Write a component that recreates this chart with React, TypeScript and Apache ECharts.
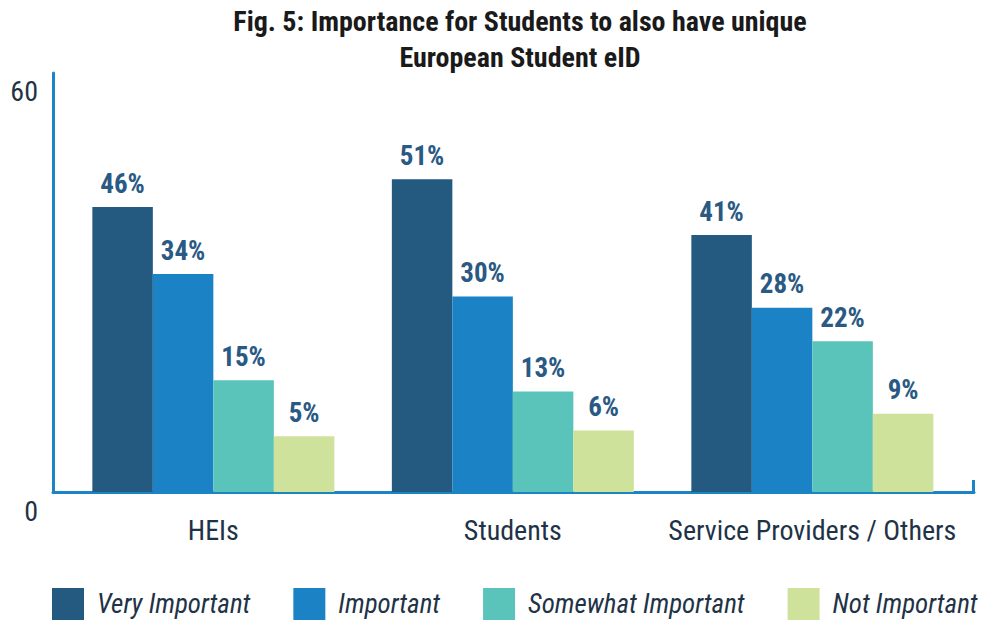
import React, { useEffect, useRef } from "react";
import * as echarts from "echarts";

const titleText = "Fig. 5: Importance for Students to also have unique\nEuropean Student eID";
const categories = ["HEIs", "Students", "Service Providers / Others"];
const seriesNames = ["Very Important", "Important", "Somewhat Important", "Not Important"];
const veryImportant = [46, 51, 41];
const important = [34, 30, 28];
const somewhatImportant = [15, 13, 22];
const notImportant = [5, 6, 9];
const yTickLabels = ["60", "0"];
const colors = ["#245a80", "#1b82c5", "#5ac4bb", "#cfe29b"];

const FONT = "'Roboto Condensed', 'Roboto', sans-serif";
const AXIS_COLOR = "#1b83c6";

export default function App() {
  const ref = useRef<HTMLDivElement>(null);
  useEffect(() => {
    if (!ref.current) return;
    const chart = echarts.init(ref.current, undefined, { renderer: "svg" });
    const values = [veryImportant, important, somewhatImportant, notImportant];
    const option: any = {
      animation: false,
      backgroundColor: "#ffffff",
      textStyle: { fontFamily: FONT },
      title: {
        text: titleText,
        left: 515,
        top: -2,
        textAlign: "center",
        textStyle: {
          fontFamily: FONT,
          fontWeight: "bold",
          fontSize: 28,
          lineHeight: 36,
          color: "#1a1a1a",
        },
      },
      legend: {
        data: seriesNames,
        left: 52,
        top: 588,
        padding: 0,
        icon: "rect",
        itemWidth: 32,
        itemHeight: 32,
        itemGap: 43,
        textStyle: {
          fontFamily: FONT,
          fontStyle: "italic",
          fontSize: 27,
          color: "#1f3347",
          padding: [0, 0, 0, 8],
        },
      },
      grid: [
        // frame grid: carries the axis lines
        { left: 53, right: 7, top: 73, bottom: 131, containLabel: false },
        // data grid: carries the bars and category labels
        { left: 63.6, right: 18.9, top: 73, bottom: 131, containLabel: false },
      ],
      xAxis: [
        {
          gridIndex: 0,
          type: "value",
          min: 0,
          max: 1,
          axisLine: { show: true, onZero: false, lineStyle: { color: AXIS_COLOR, width: 3 } },
          axisTick: { show: false },
          axisLabel: { show: false },
          splitLine: { show: false },
        },
        {
          gridIndex: 1,
          type: "category",
          data: categories,
          axisLine: { show: false },
          axisTick: { show: false },
          axisLabel: {
            interval: 0,
            margin: 24,
            fontFamily: FONT,
            fontSize: 28,
            color: "#1f3347",
          },
        },
      ],
      yAxis: [
        {
          gridIndex: 0,
          type: "value",
          min: -5,
          max: 70,
          axisLine: { show: true, onZero: false, lineStyle: { color: AXIS_COLOR, width: 3 } },
          axisTick: { show: false },
          axisLabel: { show: false },
          splitLine: { show: false },
        },
        {
          gridIndex: 1,
          type: "value",
          min: -5,
          max: 70,
          startValue: -5,
          axisLine: { show: false },
          axisTick: { show: false },
          axisLabel: { show: false },
          splitLine: { show: false },
        },
      ],
      graphic: [
        {
          type: "text",
          right: 981 - 38,
          top: 77,
          style: { text: yTickLabels[0], font: `28px ${FONT}`, fill: "#1f3347" },
        },
        {
          type: "text",
          right: 981 - 38,
          top: 497,
          style: { text: yTickLabels[1], font: `28px ${FONT}`, fill: "#1f3347" },
        },
        {
          type: "line",
          shape: { x1: 973.5, y1: 480, x2: 973.5, y2: 493 },
          style: { stroke: AXIS_COLOR, lineWidth: 3 },
        },
      ],
      series: seriesNames.map((name, i) => ({
        name,
        type: "bar",
        xAxisIndex: 1,
        yAxisIndex: 1,
        data: values[i],
        barWidth: 60.5,
        barGap: "0%",
        itemStyle: { color: colors[i] },
        label: {
          show: true,
          position: "top",
          distance: 10,
          formatter: "{c}%",
          fontFamily: FONT,
          fontWeight: "bold",
          fontSize: 27,
          color: "#2a5a84",
        },
      })),
    };
    chart.setOption(option);
    return () => chart.dispose();
  }, []);
  return (
    <div
      ref={ref}
      style={{ position: "fixed", left: 0, top: 0, width: 981, height: 623 }}
    />
  );
}
